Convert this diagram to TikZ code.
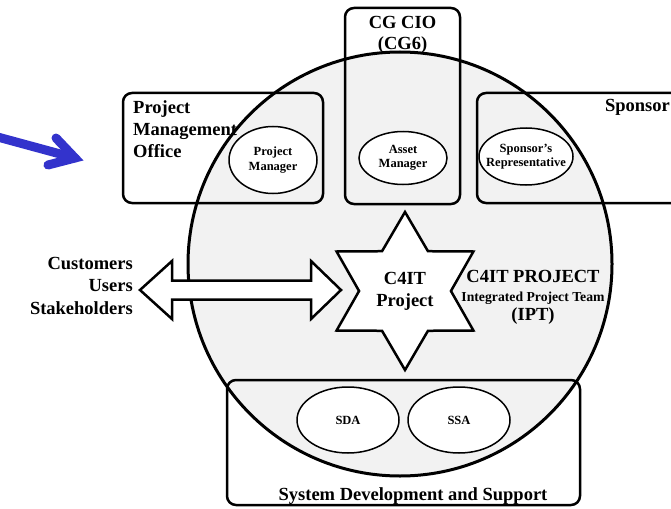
\documentclass[tikz,border=0pt]{standalone}
\usepackage{fontspec}
\setmainfont{Liberation Serif}
\usetikzlibrary{shapes.geometric,calc}
\definecolor{iptgray}{HTML}{F2F2F2}
\definecolor{arrowblue}{HTML}{3333CC}
\begin{document}
\begin{tikzpicture}[x=1pt,y=-1pt,
  orgbox/.style={draw, line width=2.5pt, rounded corners=9pt, inner sep=0pt},
  role/.style={ellipse, draw, fill=white, line width=1.5pt, inner sep=0pt},
  roletxt/.style={align=center, inner sep=0pt, font=\bfseries\fontsize{12.5}{14.5}\selectfont},
  big/.style={inner sep=0pt, font=\bfseries\fontsize{18.5}{22}\selectfont},
  bluearrow/.style={draw=arrowblue, line width=9pt, line cap=round, line join=miter},
  outline/.style={draw, line width=2.5pt, line join=miter}]
\useasboundingbox (0,0) rectangle (671,508);
\clip (0,0) rectangle (671,508);

% IPT circle fill
\coordinate (ctr) at (400,264);
\fill[iptgray] (ctr) circle (212pt);

% blue arrow
\coordinate (bstart) at (-6,136);
\coordinate (btip) at (75,158);
\draw[bluearrow] (bstart) -- (btip);
\draw[bluearrow] ($(btip)+(-19,-20)$) -- (btip) -- ($(btip)+(-27,7)$);

% organisation boxes
\node[orgbox, minimum width=200pt, minimum height=110pt] (pmo) at (223,148) {};
\node[orgbox, minimum width=115pt, minimum height=196pt] (cgcio) at (402.5,106) {};
\node[orgbox, minimum width=223pt, minimum height=110pt] (sponsor) at (588.5,148) {};
\node[orgbox, minimum width=353pt, minimum height=125pt] (sds) at (403.5,442.5) {};

% role ellipses
\node[role, minimum width=88pt, minimum height=67pt] (pm) at (273,160) {};
\node[roletxt] (pmtxt) at (pm.center) {Project\\Manager};
\node[role, minimum width=88pt, minimum height=53pt] (am) at (403,158) {};
\node[roletxt] (amtxt) at (am.center) {Asset\\Manager};
\node[role, minimum width=94pt, minimum height=57pt] (sr) at (526,156.5) {};
\node[roletxt] (srtxt) at (sr.center) {Sponsor's\\Representative};
\node[role, minimum width=102pt, minimum height=66pt] (sda) at (348,420) {};
\node[roletxt] (sdatxt) at (sda.center) {SDA};
\node[role, minimum width=102pt, minimum height=66pt] (ssa) at (459,420) {};
\node[roletxt] (ssatxt) at (ssa.center) {SSA};

% box labels
\node[big, anchor=north west, align=left] (pmolbl) at (133,100.5) {Project\\Management\\Office};
\node[big, anchor=north, align=center, font=\bfseries\fontsize{18.5}{21}\selectfont] (cglbl) at (402.5,16) {CG CIO\\(CG6)};
\node[big, anchor=base east] (sponslbl) at (670,112) {Sponsor};
\node[big, anchor=base] (sdslbl) at (413,500) {System Development and Support};

% circle outline
\draw[line width=3pt] (ctr) circle (212pt);

% double arrow
\draw[outline, fill=white] (140,290) -- (172,261) -- (172,280.5) -- (311,280.5) -- (311,261)
  -- (341,290) -- (311,319) -- (311,299.5) -- (172,299.5) -- (172,319) -- cycle;

% C4IT project star
\node[star, star points=6, star point ratio=1.72, minimum size=158pt, inner sep=0pt,
  draw, fill=white, line width=2.5pt, align=center,
  font=\bfseries\fontsize{18.5}{22}\selectfont] (c4it) at (405,291) {C4IT\\Project};

% IPT label
\node[anchor=north, align=center, inner sep=0pt, font=\bfseries\fontsize{18.5}{19}\selectfont] (iptlbl) at (533,270)
  {C4IT PROJECT\\{\fontsize{13.7}{19}\selectfont Integrated Project Team}\\(IPT)};

% stakeholders
\node[big, anchor=north east, align=right, font=\bfseries\fontsize{18.5}{22.5}\selectfont] (cust) at (133,257)
  {Customers\\Users\\Stakeholders};
\end{tikzpicture}
\end{document}
